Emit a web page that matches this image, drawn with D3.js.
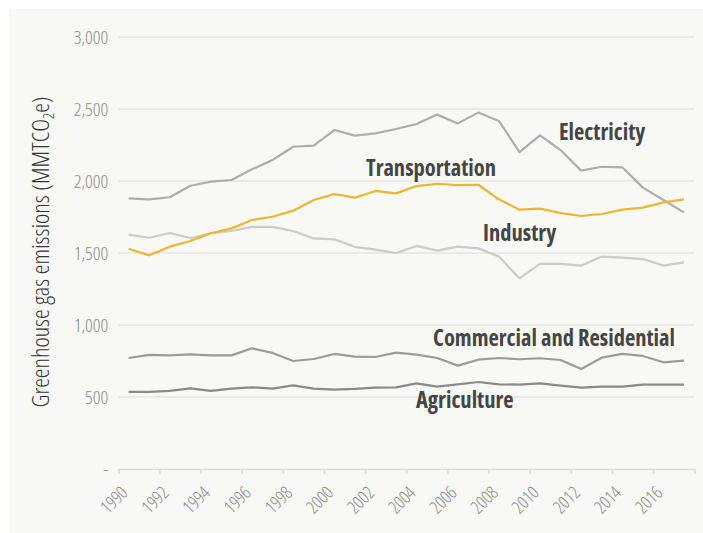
<!DOCTYPE html>
<html>
<head>
<meta charset="utf-8">
<script src="https://cdn.jsdelivr.net/npm/d3@7"></script>
<style>
  html, body { margin: 0; padding: 0; background: #ffffff; }
  svg { display: block; }
  .cond { font-family: "Open Sans", "Liberation Sans Narrow", "DejaVu Sans Condensed", sans-serif; font-stretch: 75%; }
</style>
</head>
<body>
<svg id="chart" width="703" height="533"></svg>
<script>
const years = d3.range(1990, 2018);
const yTickValues = [0, 500, 1000, 1500, 2000, 2500, 3000];
const yTickLabels = ["-", "500", "1,000", "1,500", "2,000", "2,500", "3,000"];
const xTickValues = d3.range(1990, 2018, 2);

const electricity = [1880, 1873, 1887, 1967, 1995, 2007, 2081, 2146, 2238, 2245, 2354, 2315, 2331, 2361, 2396, 2461, 2400, 2475, 2417, 2201, 2317, 2215, 2072, 2099, 2095, 1954, 1868, 1782];
const transportation = [1530, 1484, 1544, 1583, 1637, 1671, 1729, 1752, 1794, 1868, 1910, 1884, 1931, 1914, 1965, 1981, 1972, 1974, 1873, 1801, 1808, 1778, 1757, 1771, 1801, 1815, 1852, 1873];
const industry = [1627, 1606, 1639, 1604, 1637, 1653, 1681, 1681, 1653, 1601, 1595, 1543, 1523, 1500, 1549, 1516, 1544, 1532, 1475, 1324, 1424, 1424, 1412, 1475, 1468, 1458, 1412, 1435];
const commercial = [771, 792, 789, 796, 789, 789, 838, 806, 750, 764, 799, 780, 778, 808, 794, 771, 718, 759, 771, 762, 769, 757, 694, 773, 799, 785, 741, 752];
const agriculture = [535, 535, 542, 560, 542, 558, 567, 558, 581, 558, 551, 556, 565, 567, 595, 572, 588, 604, 588, 586, 595, 579, 565, 572, 572, 586, 586, 586];

const seriesNames = ["Industry", "Electricity", "Transportation", "Commercial and Residential", "Agriculture"];
const seriesValues = [industry, electricity, transportation, commercial, agriculture];
const seriesColors = ["#cbcbcb", "#adadad", "#f0b52c", "#9b9b9b", "#8a8a8a"];
// label anchor (year, value) – left start of label text baseline
const labelYears = [2007.73, 2011.42, 2002.04, 2005.3, 2004.47];
const labelValues = [1583, 2285, 2037, 856, 426];

const svg = d3.select("#chart");
const W = 703, H = 533;

svg.append("rect").attr("x", 9).attr("y", 9).attr("width", W - 9).attr("height", H - 9).attr("fill", "#f8f8f5");

const x = d3.scaleLinear().domain([1990, 2018]).range([118.3, 694.3]);
const y = d3.scaleLinear().domain([0, 3000]).range([469, 37]);

// gridlines
svg.append("g").selectAll("line")
  .data(yTickValues.filter(v => v > 0))
  .join("line")
  .attr("x1", x(1990)).attr("x2", x(2018))
  .attr("y1", d => y(d)).attr("y2", d => y(d))
  .attr("stroke", "#e4e4e2").attr("stroke-width", 1.5);

// y axis
const yAxis = d3.axisLeft(y).tickValues(yTickValues).tickSize(0).tickPadding(10)
  .tickFormat((d, i) => yTickLabels[i]);
const gy = svg.append("g").attr("transform", `translate(${x(1990)},0)`).call(yAxis);
gy.select(".domain").remove();
gy.selectAll("text").attr("class", "cond").style("font-size", "19px").attr("fill", "#8c8c8c").style("font-weight", 300);

// x axis
const xAxis = d3.axisBottom(x).tickValues(xTickValues.concat([2018])).tickSize(5).tickFormat(d => d === 2018 ? "" : d);
const gx = svg.append("g").attr("transform", `translate(0,${y(0)})`).call(xAxis);
gx.select(".domain").attr("stroke", "#dcdcda").attr("stroke-width", 1.5);
gx.selectAll(".tick line").attr("stroke", "#dcdcda").attr("stroke-width", 1.5);
gx.selectAll("text")
  .attr("class", "cond")
  .style("font-size", "18px").style("font-weight", 300)
  .attr("fill", "#8a8a8a")
  .attr("text-anchor", "end")
  .attr("x", null).attr("y", null).attr("dy", null)
  .attr("transform", "translate(10,25) rotate(-45)");

// lines
const line = d3.line().x((d, i) => x(years[i] + 0.5)).y(d => y(d));
svg.append("g").selectAll("path")
  .data(seriesValues)
  .join("path")
  .attr("d", d => line(d))
  .attr("fill", "none")
  .attr("stroke", (d, i) => seriesColors[i])
  .attr("stroke-width", 2.2)
  .attr("stroke-linejoin", "round");

// series labels
svg.append("g").selectAll("text")
  .data(seriesNames)
  .join("text")
  .attr("class", "cond")
  .attr("x", (d, i) => x(labelYears[i]))
  .attr("y", (d, i) => y(labelValues[i]))
  .style("font-size", "22.5px").style("font-weight", 700).attr("fill", "#454545")
  .text(d => d);

// y title
const title = svg.append("text")
  .attr("class", "cond")
  .attr("transform", "translate(49,252) rotate(-90)")
  .attr("text-anchor", "middle")
  .style("font-size", "24.5px").style("font-weight", 300).attr("fill", "#333");
title.append("tspan").text("Greenhouse gas emissions (MMTCO");
title.append("tspan").style("font-size", "15px").attr("dy", 5).text("2");
title.append("tspan").attr("dy", -5).text("e)");
</script>
</body>
</html>
